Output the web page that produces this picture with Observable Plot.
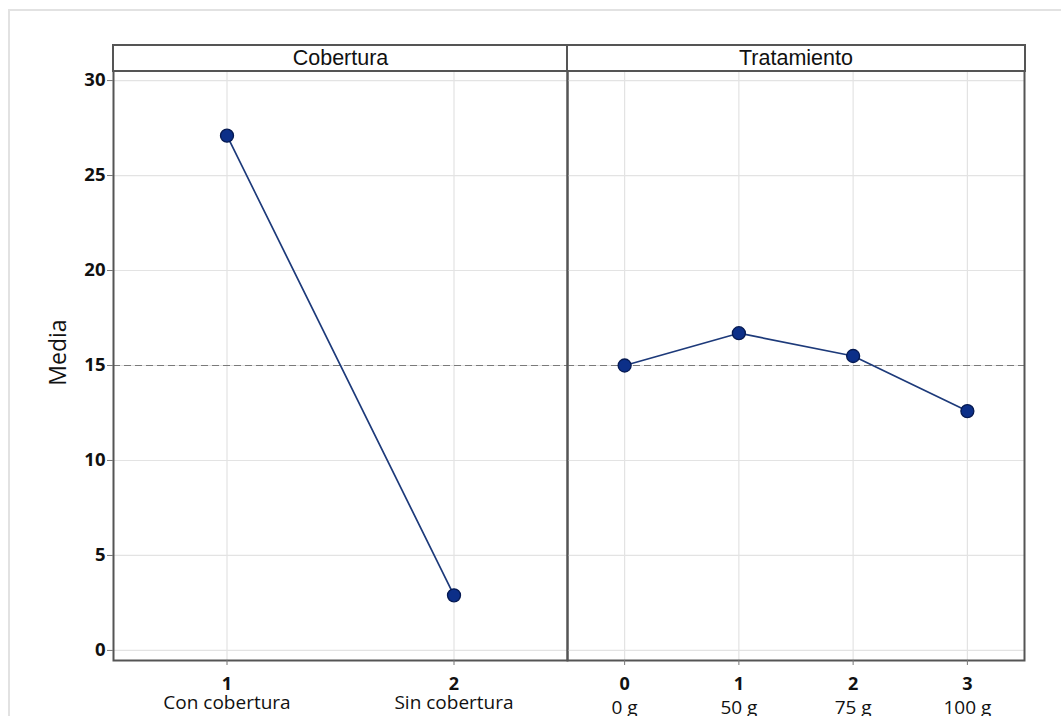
<!DOCTYPE html>
<html><head><meta charset="utf-8">
<script src="https://cdn.jsdelivr.net/npm/d3@7"></script>
<script src="https://cdn.jsdelivr.net/npm/@observablehq/plot@0.6"></script>
<style>
body{margin:0;background:#fff;width:1061px;height:716px;overflow:hidden;position:relative;font-family:"Open Sans",sans-serif}
#outer{position:absolute;left:8px;top:9px;width:1100px;height:800px;border-left:2px solid #e2e2e2;border-top:2px solid #e2e2e2}
.pl{position:absolute;top:45px}
.hdr{position:absolute;top:44px;height:24px;border:2px solid #555;box-sizing:content-box;font-family:"Liberation Sans",Arial,sans-serif;font-size:21.5px;text-align:center;line-height:25px;color:#111;background:#fff}
</style></head>
<body>
<div id="outer"></div>
<div id="left" class="pl" style="left:0px"></div>
<div id="right" class="pl" style="left:565px"></div>
<div class="hdr" style="left:112px;width:453px">Cobertura</div>
<div class="hdr" style="left:566px;width:456px">Tratamiento</div>
<script>
const cobLevels = [1, 2];
const cobLabels = ["Con cobertura", "Sin cobertura"];
const cobMeans = [27.1, 2.9];
const trtLevels = [0, 1, 2, 3];
const trtLabels = ["0 g", "50 g", "75 g", "100 g"];
const trtMeans = [15.0, 16.7, 15.5, 12.6];
const grandMean = 15.0;
const yTicks = [0, 5, 10, 15, 20, 25, 30];

const lineColor = "#1d3a7a";
const dotFill = "#0c2f88";
const dotStroke = "#061a52";
const gridColor = "#e3e3e3";
const frameColor = "#555";

function panel(levels, labels, means, opts) {
  const data = levels.map((l, i) => ({x: l, y: means[i]}));
  return Plot.plot({
    width: opts.width, height: 671,
    marginLeft: opts.ml, marginRight: opts.mr, marginTop: 25, marginBottom: 56,
    style: {fontFamily: "'Open Sans', sans-serif", color: "#111", background: "transparent", overflow: "visible"},
    x: {domain: opts.xdom, axis: null},
    y: {domain: [-0.53, 30.53], axis: null},
    marks: [
      Plot.gridX(levels, {stroke: gridColor, strokeOpacity: 1, strokeWidth: 1.2}),
      Plot.gridY(yTicks, {stroke: gridColor, strokeOpacity: 1, strokeWidth: 1.2}),
      Plot.ruleY([grandMean], {stroke: "#7a7a7a", strokeWidth: 1.2, strokeDasharray: "7,4"}),
      Plot.line(data, {x: "x", y: "y", stroke: lineColor, strokeWidth: 1.7}),
      Plot.dot(data, {x: "x", y: "y", r: 6.5, fill: dotFill, stroke: dotStroke, strokeWidth: 1.3}),
      Plot.frame({stroke: frameColor, strokeWidth: 2}),
      ...(opts.yaxis ? [
        Plot.axisY(yTicks, {tickSize: 6, tickPadding: 2, stroke: "#777", fontSize: 18.5, fontWeight: "bold", label: null}),
        Plot.text(["Media"], {frameAnchor: "left", textAnchor: "middle", rotate: -90, dx: -55, dy: -13, fontSize: 23, fill: "#111"})
      ] : []),
      Plot.axisX(levels, {tickSize: 5, stroke: "#777", tickPadding: 12, fontSize: 18, fontWeight: "bold", tickFormat: d => String(d), label: null}),
      Plot.axisX(levels, {tickSize: 0, tickPadding: opts.lab2pad, fontSize: 19, tickFormat: d => labels[levels.indexOf(d)], label: null})
    ]
  });
}

document.getElementById("left").append(panel(cobLevels, cobLabels, cobMeans,
  {width: 569, ml: 113, mr: 2, xdom: [0.5, 2.5], yaxis: true, lab2pad: 35}));
document.getElementById("right").append(panel(trtLevels, trtLabels, trtMeans,
  {width: 496, ml: 2, mr: 37, xdom: [-0.5, 3.5], yaxis: false, lab2pad: 40}));
</script>
</body></html>
